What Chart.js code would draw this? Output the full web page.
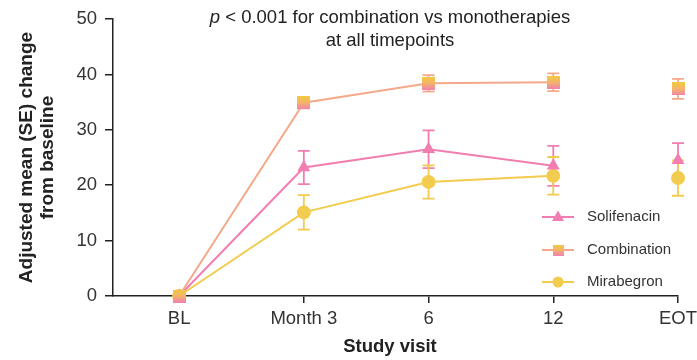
<!DOCTYPE html>
<html><head><meta charset="utf-8">
<script src="https://cdn.jsdelivr.net/npm/chart.js@4"></script>
<style>html,body{margin:0;padding:0;background:#fff}#wrap{width:697px;height:360px}</style>
</head><body><div id="wrap"><canvas id="c" width="697" height="360"></canvas></div>
<script>
const visits = ['BL', 'Month 3', '6', '12', 'EOT'];
const solifenacin = [0, 23.2, 26.5, 23.5, 24.5];
const solifenacinSE = [0, 3.0, 3.4, 3.6, 3.1];
const combination = [0, 34.9, 38.4, 38.6, 37.4];
const combinationSE = [0, 1.0, 1.5, 1.6, 1.8];
const mirabegron = [0, 15.1, 20.6, 21.7, 21.3];
const mirabegronSE = [0, 3.1, 3.0, 3.4, 3.2];
const yTicks = [0, 10, 20, 30, 40, 50];

const PINK = '#F27DB0', SALMON = '#F5A98A', YELLOW = '#F2CC4E';
const FONT = "'Liberation Sans', Arial, sans-serif";

function gradSquare(size) {
  const c = document.createElement('canvas');
  c.width = size; c.height = size;
  const g = c.getContext('2d');
  const gr = g.createLinearGradient(0, 0, 0, size);
  gr.addColorStop(0, '#F3C941');
  gr.addColorStop(0.5, '#F3B46A');
  gr.addColorStop(1, '#F183AE');
  g.fillStyle = gr; g.fillRect(0, 0, size, size);
  return c;
}
const sq = gradSquare(13);
const sqSmall = gradSquare(11);

function pts(arr) { return arr.map((v, i) => ({x: i, y: v})); }
function seg(color) { return { borderColor: ctx => ctx.p1DataIndex === 4 ? 'rgba(0,0,0,0)' : color }; }

const series = [
  {label: 'Solifenacin', data: solifenacin, se: solifenacinSE, color: PINK, style: 'triangle', radius: 7.5, order: 1},
  {label: 'Combination', data: combination, se: combinationSE, color: SALMON, style: sq, radius: 7, order: 0},
  {label: 'Mirabegron', data: mirabegron, se: mirabegronSE, color: YELLOW, style: 'circle', radius: 7, order: 2}
];

const errorBars = {
  id: 'errorBars',
  beforeDatasetsDraw(chart) {
    const {ctx, scales: {x, y}} = chart;
    ctx.save();
    chart.data.datasets.forEach(ds => {
      ctx.strokeStyle = ds.errColor; ctx.lineWidth = 1.8;
      ds.data.forEach((p, i) => {
        const e = ds.se[i]; if (!e) return;
        const px = x.getPixelForValue(p.x);
        const top = y.getPixelForValue(p.y + e), bot = y.getPixelForValue(p.y - e);
        ctx.beginPath();
        ctx.moveTo(px, top); ctx.lineTo(px, bot);
        ctx.moveTo(px - 6, top); ctx.lineTo(px + 6, top);
        ctx.moveTo(px - 6, bot); ctx.lineTo(px + 6, bot);
        ctx.stroke();
      });
    });
    ctx.restore();
  }
};

const titlePlugin = {
  id: 'titleText',
  afterDraw(chart) {
    const ctx = chart.ctx;
    ctx.save();
    ctx.fillStyle = '#222';
    ctx.textBaseline = 'middle';
    const cx = 390, fs = 18.5;
    const pPart = 'p', rest = ' < 0.001 for combination vs monotherapies';
    ctx.font = 'italic ' + fs + 'px ' + FONT;
    const w1 = ctx.measureText(pPart).width;
    ctx.font = fs + 'px ' + FONT;
    const w2 = ctx.measureText(rest).width;
    const sx = cx - (w1 + w2) / 2;
    ctx.textAlign = 'left';
    ctx.font = 'italic ' + fs + 'px ' + FONT;
    ctx.fillText(pPart, sx, 18);
    ctx.font = fs + 'px ' + FONT;
    ctx.fillText(rest, sx + w1, 18);
    ctx.textAlign = 'center';
    ctx.fillText('at all timepoints', cx, 41);
    ctx.restore();
  }
};

const legendPlugin = {
  id: 'customLegend',
  afterDraw(chart) {
    const ctx = chart.ctx;
    ctx.save();
    const rows = [217, 250, 282];
    chart.data.datasets.forEach((ds, i) => {
      const y = rows[i];
      ctx.strokeStyle = ds.borderColor; ctx.lineWidth = 2;
      ctx.beginPath(); ctx.moveTo(542, y); ctx.lineTo(574, y); ctx.stroke();
      const cx = 558;
      if (ds.pointStyle instanceof HTMLCanvasElement) {
        ctx.drawImage(sqSmall, cx - 5.5, y - 5.5);
      } else if (ds.pointStyle === 'triangle') {
        ctx.fillStyle = ds.pointBackgroundColor;
        ctx.beginPath(); ctx.moveTo(cx, y - 6.5); ctx.lineTo(cx + 6, y + 4); ctx.lineTo(cx - 6, y + 4); ctx.closePath(); ctx.fill();
      } else {
        ctx.fillStyle = ds.pointBackgroundColor;
        ctx.beginPath(); ctx.arc(cx, y, 5.5, 0, Math.PI * 2); ctx.fill();
      }
      ctx.fillStyle = '#333'; ctx.font = '15px ' + FONT;
      ctx.textAlign = 'left'; ctx.textBaseline = 'middle';
      ctx.fillText(ds.label, 587, y);
    });
    ctx.restore();
  }
};

const xTitlePlugin = {
  id: 'xTitle',
  afterDraw(chart) {
    const ctx = chart.ctx;
    ctx.save();
    ctx.fillStyle = '#222';
    ctx.font = 'bold 18.5px ' + FONT;
    ctx.textAlign = 'center'; ctx.textBaseline = 'middle';
    ctx.fillText('Study visit', 390, 347);
    ctx.restore();
  }
};

new Chart(document.getElementById('c'), {
  type: 'line',
  data: {
    datasets: series.map(s => ({
      label: s.label,
      data: pts(s.data),
      se: s.se,
      errColor: s.color,
      borderColor: s.color,
      backgroundColor: s.color,
      pointBackgroundColor: s.color,
      pointBorderColor: s.color,
      pointBorderWidth: 0,
      pointStyle: s.style,
      pointRadius: s.radius,
      pointHoverRadius: s.radius,
      borderWidth: 2,
      tension: 0,
      clip: false,
      segment: seg(s.color),
      order: s.order
    }))
  },
  options: {
    responsive: false,
    animation: false,
    events: [],
    layout: {padding: {top: 19, right: 19, left: 0, bottom: 0}},
    plugins: {legend: {display: false}, tooltip: {enabled: false}, title: {display: false}},
    scales: {
      x: {
        type: 'linear', min: -0.53, max: 4,
        afterBuildTicks: sc => { sc.ticks = visits.map((v, i) => ({value: i})); },
        afterFit: sc => { sc.paddingLeft = 0; sc.paddingRight = 0; sc.height = 64; },
        ticks: {callback: v => visits[v], color: '#333', font: {size: 18.5, family: FONT}, padding: 5, maxRotation: 0, autoSkip: false},
        grid: {display: true, drawOnChartArea: false, drawTicks: true, tickLength: 7, color: '#222', lineWidth: 1.5},
        border: {display: true, color: '#222', width: 1.5},
        title: {display: false}
      },
      y: {
        min: 0, max: 50,
        afterBuildTicks: sc => { sc.ticks = yTicks.map(v => ({value: v})); },
        afterFit: sc => { sc.width = 113; },
        ticks: {color: '#333', font: {size: 18.5, family: FONT}, padding: 8},
        grid: {display: true, drawOnChartArea: false, drawTicks: true, tickLength: 8, color: '#222', lineWidth: 1.5},
        border: {display: true, color: '#222', width: 1.5},
        title: {display: true, text: ['Adjusted mean (SE) change', 'from baseline'], color: '#222', font: {size: 19, weight: 'bold', family: FONT, lineHeight: 1.1}, padding: {top: 16.5, bottom: 0}}
      }
    }
  },
  plugins: [errorBars, titlePlugin, legendPlugin, xTitlePlugin]
});
</script></body></html>
